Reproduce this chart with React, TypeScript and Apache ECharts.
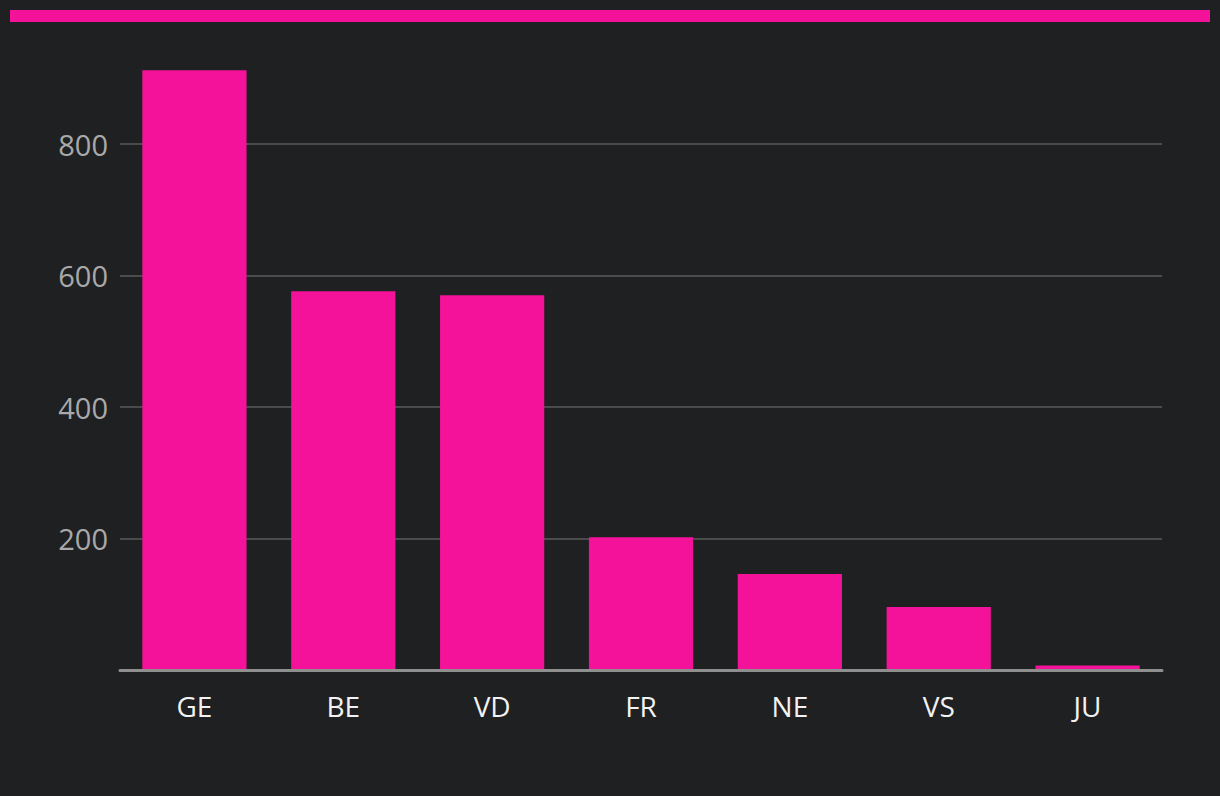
import React, { useEffect, useRef } from "react";
import * as echarts from "echarts";

const categories = ["GE", "BE", "VD", "FR", "NE", "VS", "JU"];
const values = [912, 576, 570, 202, 146, 96, 7];
const yTicks = [0, 200, 400, 600, 800];

export default function App() {
  const ref = useRef<HTMLDivElement>(null);
  useEffect(() => {
    document.body.style.margin = "0";
    document.body.style.background = "#1f2022";
    const chart = echarts.init(ref.current!, null, { renderer: "svg" });
    const maxVal = Math.max(...values);
    chart.setOption({
      animation: false,
      backgroundColor: "#1f2022",
      textStyle: { fontFamily: "Open Sans" },
      graphic: [
        {
          type: "rect",
          shape: { x: 10, y: 10, width: 1200, height: 12 },
          style: { fill: "#f5129a" },
        },
      ],
      grid: { left: 120, right: 58, top: 670 - maxVal * (131.5 / 200), bottom: 126, containLabel: false },
      xAxis: {
        type: "category",
        data: categories,
        z: 5,
        axisLine: { show: true, lineStyle: { color: "#8f8f8f", width: 3 } },
        axisTick: { show: false },
        axisLabel: { color: "#f2f2f2", fontSize: 28, margin: 22, fontFamily: "Open Sans" },
      },
      yAxis: {
        type: "value",
        min: 0,
        max: maxVal,
        interval: 200,
        axisLine: { show: false },
        axisTick: { show: false },
        axisLabel: {
          color: "#a9a9a9",
          fontSize: 29,
          margin: 12,
          fontFamily: "Open Sans",
          showMaxLabel: false,
          formatter: (v: number) => (yTicks.includes(v) && v !== 0 ? String(v) : ""),
        },
        splitLine: { show: true, showMaxLine: false, lineStyle: { color: "#5a5a5a", width: 1.5 } },
      },
      series: [
        {
          type: "bar",
          data: values,
          barWidth: "70%",
          itemStyle: { color: "#f5129a" },
        },
      ],
    });
    return () => chart.dispose();
  }, []);
  return <div ref={ref} style={{ width: 1220, height: 796 }} />;
}
